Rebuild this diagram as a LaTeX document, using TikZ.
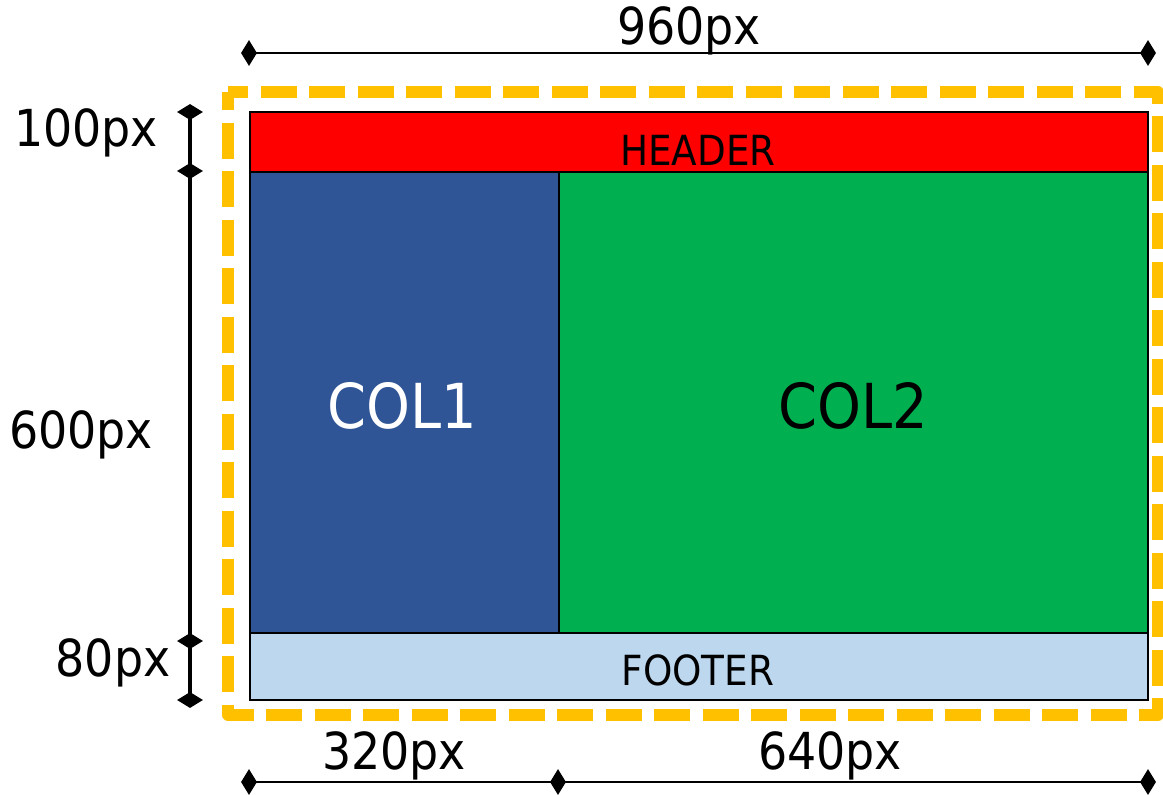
\documentclass[tikz,border=0pt]{standalone}
\usepackage{fontspec}
\setmainfont{DejaVu Sans Condensed}
\usetikzlibrary{shapes.geometric}
\definecolor{hdr}{HTML}{FF0000}
\definecolor{colone}{HTML}{2F5597}
\definecolor{coltwo}{HTML}{00B050}
\definecolor{ftr}{HTML}{BDD7EE}
\definecolor{frame}{HTML}{FFC000}
\tikzset{
  blk/.style={draw=black, line width=1.5pt},
  dimline/.style={draw=black, line width=2.5pt},
  vdimline/.style={draw=black, line width=3.2pt},
  hdia/.style={diamond, fill=black, inner sep=0pt, minimum width=16pt, minimum height=26pt},
  vdia/.style={diamond, fill=black, inner sep=0pt, minimum width=26pt, minimum height=16pt},
  lbl/.style={font=\fontsize{51}{51}\selectfont, text=black},
}
\begin{document}
\begin{tikzpicture}[x=1pt,y=-1pt]
\useasboundingbox (0,0) rectangle (1163,795);
% dashed frame
\draw[frame, line width=11.5pt, dash pattern=on 36pt off 12.5pt, dash phase=18pt, line join=round] (228,92) rectangle (1158,715);
% blocks
\node[blk, fill=hdr, minimum width=898pt, minimum height=60pt, inner sep=0pt, anchor=north west] (header) at (249,111) {};
\node[blk, fill=colone, minimum width=309pt, minimum height=461pt, inner sep=0pt, anchor=north west] (col1) at (249,171) {};
\node[blk, fill=coltwo, minimum width=589pt, minimum height=461pt, inner sep=0pt, anchor=north west] (col2) at (558,171) {};
\node[blk, fill=ftr, minimum width=898pt, minimum height=67pt, inner sep=0pt, anchor=north west] (footer) at (249,632) {};
\node[font=\fontsize{41.5}{41.5}\selectfont] (htxt) at (698,150) {HEADER};
\node[font=\fontsize{62}{62}\selectfont, text=white] (c1txt) at (402,406) {COL1};
\node[font=\fontsize{62}{62}\selectfont] (c2txt) at (853,406) {COL2};
\node[font=\fontsize{41.5}{41.5}\selectfont] (ftxt) at (698,670) {FOOTER};
% top dimension
\node[hdia] (t1) at (249,53) {};
\node[hdia] (t2) at (1148,53) {};
\draw[dimline] (t1.center) -- (t2.center);
\node[lbl] (l960) at (689,31) {960px};
% left dimension
\node[vdia] (v1) at (190,112) {};
\node[vdia] (v2) at (190,171) {};
\node[vdia] (v3) at (190,641) {};
\node[vdia] (v4) at (190,700) {};
\draw[vdimline] (v1.center) -- (v2.center) -- (v3.center) -- (v4.center);
\node[lbl] (l100) at (86,133) {100px};
\node[lbl] (l600) at (81,435) {600px};
\node[lbl] (l80) at (113,663) {80px};
% bottom dimension
\node[hdia] (b1) at (249,782) {};
\node[hdia] (b2) at (558,782) {};
\node[hdia] (b3) at (1148,782) {};
\draw[dimline] (b1.center) -- (b2.center) -- (b3.center);
\node[lbl] (l320) at (394,756) {320px};
\node[lbl] (l640) at (830,756) {640px};
\end{tikzpicture}
\end{document}
